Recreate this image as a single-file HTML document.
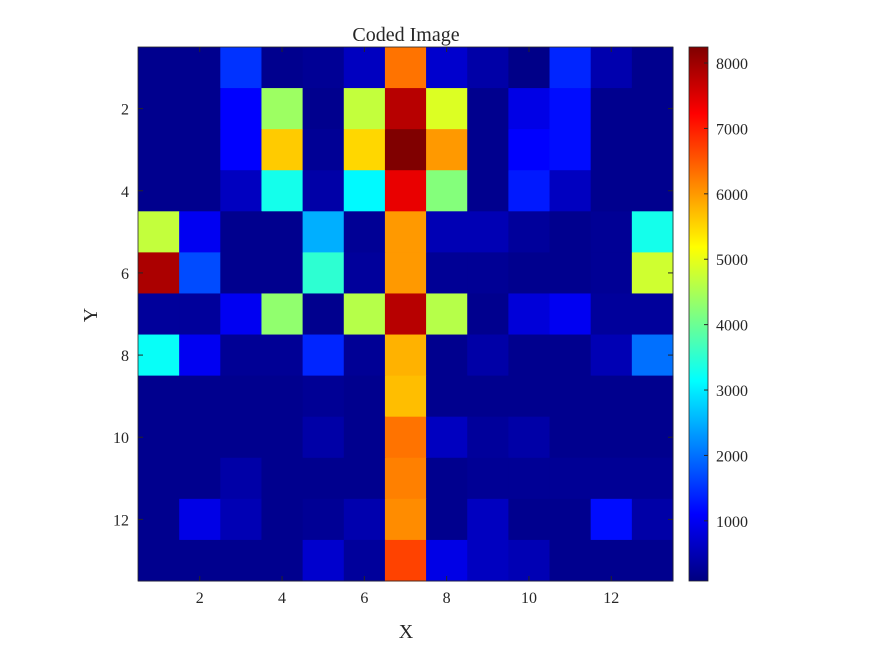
<!DOCTYPE html>
<html><head><meta charset="utf-8"><style>
html,body{margin:0;padding:0;background:#fff}
svg text{font-family:"Liberation Serif",serif;fill:#262626}
</style></head><body>
<svg id="chart" width="875" height="656" xmlns="http://www.w3.org/2000/svg">
<rect width="875" height="656" fill="#fff"/>
<g id="cells"></g>
<g id="axes"></g>
<text x="406" y="41" font-size="20" text-anchor="middle">Coded Image</text>
<text x="406" y="638" font-size="20" text-anchor="middle">X</text>
<text x="97" y="315" font-size="20" text-anchor="middle" transform="rotate(-90 97 315)">Y</text>
<defs><linearGradient id="jetgrad" x1="0" y1="1" x2="0" y2="0"></linearGradient></defs>
<g id="cbar"></g>
</svg>
<script>
const xCategories=[1,2,3,4,5,6,7,8,9,10,11,12,13];
const yCategories=[1,2,3,4,5,6,7,8,9,10,11,12,13];
const row1=[200,200,1500,200,250,600,6300,700,400,150,1400,450,200];
const row2=[200,200,1100,4400,200,4700,7800,4900,200,900,1200,200,200];
const row3=[200,200,1100,5600,250,5500,8245,6000,200,1100,1200,200,200];
const row4=[200,200,600,3300,400,3100,7400,4200,200,1300,600,200,200];
const row5=[4700,1000,200,200,2500,250,6000,500,500,300,200,250,3300];
const row6=[7900,1700,200,200,3500,300,6000,250,250,200,200,250,4800];
const row7=[300,300,1000,4300,200,4600,7800,4600,200,800,1000,300,300];
const row8=[3200,1000,250,250,1400,250,5800,200,400,200,200,500,2000];
const row9=[200,200,200,200,250,200,5700,200,200,200,200,200,200];
const row10=[200,200,200,200,400,200,6300,600,300,400,200,200,200];
const row11=[200,200,400,200,200,200,6200,200,250,250,250,250,250];
const row12=[200,900,500,200,250,450,6100,200,600,200,200,1200,400];
const row13=[200,200,200,200,700,300,6700,900,600,500,200,200,200];
const values=[row1,row2,row3,row4,row5,row6,row7,row8,row9,row10,row11,row12,row13];
const xTicks=[2,4,6,8,10,12];
const yTicks=[2,4,6,8,10,12];
const cTicks=[1000,2000,3000,4000,5000,6000,7000,8000];
const cMin=80,cMax=8245;
const L=138,R=673,T=47,B=581;
const NS="http://www.w3.org/2000/svg";
const cw=(R-L)/xCategories.length,ch=(B-T)/yCategories.length;
const xScale=v=>L+(v-0.5)*cw;
const yScale=v=>T+(v-0.5)*ch;
const cScale=v=>B-(v-cMin)/(cMax-cMin)*(B-T);
function jet(t){t=Math.max(0,Math.min(1,t));
 const f=x=>Math.max(0,Math.min(1,x));
 const r=f(Math.min(4*t-1.5,-4*t+4.5)),g=f(Math.min(4*t-0.5,-4*t+3.5)),b=f(Math.min(4*t+0.5,-4*t+2.5));
 return `rgb(${Math.round(r*255)},${Math.round(g*255)},${Math.round(b*255)})`;}
function mk(tag,a,p){const e=document.createElementNS(NS,tag);for(const k in a)e.setAttribute(k,a[k]);p.appendChild(e);return e;}
const cells=document.getElementById('cells');
values.forEach((row,i)=>row.forEach((v,j)=>{
 const r=mk('rect',{x:xScale(xCategories[j])-cw/2,y:yScale(yCategories[i])-ch/2,width:cw+0.5,height:ch+0.5,fill:jet((v-cMin)/(cMax-cMin))},cells);
 
 
}));
const ax=document.getElementById('axes');
mk('rect',{x:L,y:T,width:R-L,height:B-T,fill:'none',stroke:'#262626','stroke-width':0.8},ax);
xTicks.forEach(v=>{const x=xScale(v);
 mk('line',{x1:x,y1:B,x2:x,y2:B-5,stroke:'#262626'},ax);mk('line',{x1:x,y1:T,x2:x,y2:T+5,stroke:'#262626'},ax);
 const t=mk('text',{x:x,y:B+22,'font-size':16,'text-anchor':'middle'},ax);t.textContent=v;
 
 });
yTicks.forEach(v=>{const y=yScale(v);
 mk('line',{x1:L,y1:y,x2:L+5,y2:y,stroke:'#262626'},ax);mk('line',{x1:R,y1:y,x2:R-5,y2:y,stroke:'#262626'},ax);
 const t=mk('text',{x:L-9,y:y+6,'font-size':16,'text-anchor':'end'},ax);t.textContent=v;
 
 });
const g=document.getElementById('jetgrad');
for(let i=0;i<=40;i++){mk('stop',{offset:i/40,'stop-color':jet(i/40)},g);}
const cb=document.getElementById('cbar');
const CL=689,CR=708;
mk('rect',{x:CL,y:T,width:CR-CL,height:B-T,fill:'url(#jetgrad)',stroke:'#262626','stroke-width':0.8},cb);
cTicks.forEach(v=>{const y=cScale(v);
 mk('line',{x1:CR,y1:y,x2:CR-4,y2:y,stroke:'#262626'},cb);
 const t=mk('text',{x:CR+8,y:y+6,'font-size':16},cb);t.textContent=v;
 
 });
</script>
</body></html>
